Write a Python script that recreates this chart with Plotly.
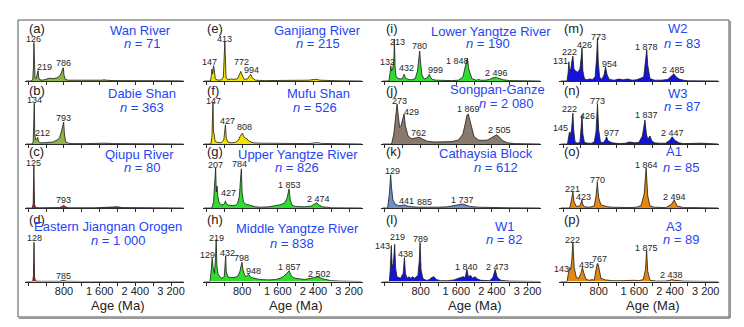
import plotly.graph_objects as go

W, H = 744, 327

# ---------------- data (age in Ma, relative density) ----------------
WAN_AGE = [-50, 60, 100, 115, 126, 137, 150, 175, 200, 219, 235, 260, 320, 400, 480, 560, 640, 700, 740, 770, 786, 800, 830, 900, 1000, 1200, 1500, 1650, 1700, 1750, 1900, 2200, 2400, 2500, 2600, 3000, 3300, 3480]
WAN_DENS = [0, 0, 0.03, 0.35, 0.96, 0.3, 0.08, 0.06, 0.15, 0.26, 0.08, 0.03, 0.02, 0.05, 0.07, 0.06, 0.08, 0.12, 0.2, 0.3, 0.33, 0.15, 0.04, 0.02, 0.02, 0.01, 0.01, 0.02, 0.03, 0.02, 0.01, 0.01, 0.02, 0.01, 0.005, 0.005, 0.005, 0]
WAN_PEAKS = [126, 219, 786]

DABIE_AGE = [-50, 80, 110, 125, 134, 145, 165, 190, 212, 230, 260, 350, 450, 550, 650, 700, 740, 770, 793, 810, 840, 900, 1000, 1300, 1500, 1600, 1700, 1900, 2200, 2500, 2800, 3480]
DABIE_DENS = [0, 0, 0.05, 0.5, 1.02, 0.25, 0.1, 0.12, 0.17, 0.07, 0.03, 0.03, 0.04, 0.05, 0.1, 0.16, 0.3, 0.48, 0.55, 0.25, 0.05, 0.02, 0.01, 0.01, 0.02, 0.03, 0.02, 0.01, 0.01, 0.005, 0.005, 0]
DABIE_PEAKS = [134, 212, 793]

QIUPU_AGE = [-50, 90, 110, 125, 140, 160, 250, 500, 700, 760, 793, 830, 900, 1500, 1900, 2000, 2100, 2500, 2700, 3480]
QIUPU_DENS = [0, 0, 0.1, 1.05, 0.1, 0.01, 0.005, 0.005, 0.01, 0.04, 0.07, 0.03, 0.005, 0.005, 0.01, 0.03, 0.01, 0.005, 0.01, 0]
QIUPU_PEAKS = [125, 793]

JIANGNAN_AGE = [-50, 100, 115, 128, 140, 160, 300, 700, 785, 870, 1200, 3480]
JIANGNAN_DENS = [0, 0, 0.15, 0.98, 0.12, 0.01, 0.005, 0.005, 0.025, 0.005, 0, 0]
JIANGNAN_PEAKS = [128, 785]

GANJIANG_AGE = [-50, 90, 110, 125, 140, 160, 175, 200, 260, 340, 380, 413, 440, 480, 550, 620, 700, 740, 772, 800, 850, 920, 960, 994, 1030, 1100, 1300, 1700, 2100, 2300, 2420, 2480, 2540, 2700, 2780, 2850, 3000, 3480]
GANJIANG_DENS = [0, 0, 0.12, 0.3, 0.18, 0.38, 0.3, 0.05, 0.02, 0.03, 0.1, 0.98, 0.1, 0.03, 0.05, 0.04, 0.06, 0.15, 0.24, 0.15, 0.04, 0.05, 0.12, 0.17, 0.08, 0.02, 0.01, 0.01, 0.01, 0.02, 0.04, 0.04, 0.02, 0.01, 0.02, 0.01, 0.005, 0]
GANJIANG_PEAKS = [147, 413, 772, 994]

MUFU_AGE = [-50, 100, 125, 147, 160, 175, 190, 205, 250, 330, 390, 410, 427, 445, 480, 550, 650, 720, 760, 808, 840, 880, 910, 950, 1050, 1200, 1600, 2000, 2300, 2450, 2500, 2560, 2800, 3000, 3480]
MUFU_DENS = [0, 0, 0.2, 1.05, 0.3, 0.25, 0.1, 0.06, 0.04, 0.03, 0.1, 0.35, 0.48, 0.15, 0.05, 0.03, 0.04, 0.1, 0.2, 0.27, 0.18, 0.14, 0.13, 0.07, 0.03, 0.02, 0.01, 0.01, 0.01, 0.03, 0.035, 0.015, 0.01, 0.005, 0]
MUFU_PEAKS = [147, 427, 808]

UPPER_AGE = [-50, 120, 160, 190, 207, 222, 240, 255, 280, 330, 380, 410, 427, 450, 500, 580, 650, 700, 740, 770, 784, 800, 830, 880, 950, 1000, 1100, 1200, 1400, 1550, 1650, 1750, 1810, 1853, 1880, 1920, 2000, 2200, 2350, 2430, 2474, 2520, 2600, 2700, 2800, 3480]
UPPER_DENS = [0, 0, 0.15, 0.6, 1.0, 0.4, 0.55, 0.3, 0.15, 0.08, 0.08, 0.12, 0.18, 0.1, 0.07, 0.06, 0.07, 0.12, 0.3, 0.8, 0.98, 0.4, 0.15, 0.1, 0.08, 0.05, 0.03, 0.02, 0.03, 0.06, 0.08, 0.12, 0.25, 0.48, 0.2, 0.07, 0.04, 0.03, 0.05, 0.1, 0.13, 0.08, 0.03, 0.02, 0.005, 0]
UPPER_PEAKS = [207, 427, 784, 1853, 2474]

MIDDLE_AGE = [-50, 80, 110, 129, 150, 180, 205, 219, 235, 260, 300, 350, 400, 420, 432, 445, 480, 550, 620, 700, 750, 780, 798, 820, 860, 900, 948, 1000, 1100, 1200, 1400, 1550, 1650, 1720, 1800, 1857, 1900, 1950, 2000, 2100, 2200, 2300, 2400, 2502, 2600, 2700, 2800, 3000, 3480]
MIDDLE_DENS = [0, 0, 0.3, 0.58, 0.35, 0.2, 0.6, 1.05, 0.4, 0.2, 0.12, 0.08, 0.12, 0.4, 0.64, 0.25, 0.12, 0.1, 0.1, 0.13, 0.25, 0.4, 0.48, 0.3, 0.15, 0.13, 0.18, 0.1, 0.07, 0.05, 0.04, 0.05, 0.08, 0.12, 0.2, 0.27, 0.15, 0.1, 0.08, 0.06, 0.05, 0.07, 0.1, 0.12, 0.07, 0.04, 0.02, 0.01, 0]
MIDDLE_PEAKS = [129, 219, 432, 798, 948, 1857, 2502]

LOWER_AGE = [-50, 90, 115, 132, 150, 175, 200, 213, 228, 250, 300, 380, 415, 432, 455, 520, 600, 680, 730, 760, 780, 800, 830, 880, 950, 980, 999, 1020, 1060, 1150, 1300, 1500, 1650, 1750, 1800, 1848, 1880, 1950, 2050, 2100, 2150, 2250, 2350, 2420, 2496, 2560, 2650, 2800, 3480]
LOWER_DENS = [0, 0, 0.2, 0.38, 0.25, 0.3, 0.5, 1.05, 0.35, 0.12, 0.06, 0.05, 0.12, 0.17, 0.08, 0.04, 0.03, 0.06, 0.25, 0.6, 0.75, 0.45, 0.15, 0.05, 0.08, 0.14, 0.17, 0.1, 0.04, 0.02, 0.01, 0.01, 0.02, 0.1, 0.35, 0.57, 0.3, 0.06, 0.02, 0.04, 0.02, 0.02, 0.04, 0.08, 0.09, 0.07, 0.03, 0.01, 0]
LOWER_PEAKS = [132, 213, 432, 780, 999, 1848, 2496]

SONGPAN_AGE = [-50, 150, 200, 240, 273, 300, 330, 360, 400, 429, 460, 520, 600, 680, 762, 850, 950, 1100, 1300, 1500, 1650, 1750, 1800, 1840, 1869, 1900, 1950, 2000, 2100, 2200, 2300, 2400, 2450, 2505, 2560, 2650, 2750, 2900, 3480]
SONGPAN_DENS = [0, 0, 0.25, 0.75, 1.0, 0.7, 0.42, 0.45, 0.65, 0.75, 0.45, 0.2, 0.13, 0.15, 0.17, 0.12, 0.07, 0.05, 0.05, 0.06, 0.1, 0.25, 0.5, 0.72, 0.75, 0.62, 0.35, 0.18, 0.1, 0.09, 0.1, 0.16, 0.21, 0.23, 0.18, 0.08, 0.03, 0.01, 0]
SONGPAN_PEAKS = [273, 429, 762, 1869, 2505]

CATHAYSIA_AGE = [-50, 60, 100, 129, 150, 180, 230, 300, 380, 441, 500, 600, 750, 885, 1000, 1200, 1400, 1550, 1650, 1737, 1800, 1900, 2100, 2400, 2600, 2800, 3480]
CATHAYSIA_DENS = [0, 0, 0.35, 0.83, 0.5, 0.2, 0.1, 0.06, 0.06, 0.08, 0.05, 0.03, 0.02, 0.03, 0.02, 0.02, 0.03, 0.06, 0.09, 0.1, 0.08, 0.04, 0.02, 0.01, 0.01, 0.005, 0]
CATHAYSIA_PEAKS = [129, 441, 885, 1737]

W1_AGE = [-50, 100, 120, 143, 160, 180, 200, 219, 240, 270, 350, 410, 438, 460, 500, 540, 580, 620, 660, 700, 740, 770, 789, 810, 850, 900, 950, 1000, 1050, 1100, 1150, 1250, 1400, 1550, 1650, 1700, 1750, 1800, 1840, 1870, 1920, 1970, 2020, 2080, 2150, 2250, 2350, 2420, 2473, 2520, 2600, 2700, 2800, 3480]
W1_DENS = [0, 0, 0.3, 0.9, 0.45, 0.35, 0.6, 0.93, 0.35, 0.12, 0.08, 0.2, 0.6, 0.2, 0.08, 0.12, 0.08, 0.12, 0.08, 0.12, 0.15, 0.5, 0.98, 0.3, 0.08, 0.04, 0.03, 0.05, 0.1, 0.12, 0.05, 0.02, 0.02, 0.04, 0.07, 0.1, 0.12, 0.1, 0.3, 0.12, 0.15, 0.08, 0.12, 0.06, 0.03, 0.02, 0.02, 0.1, 0.3, 0.1, 0.03, 0.02, 0.01, 0]
W1_PEAKS = [143, 219, 438, 789, 1840, 2473]

W2_AGE = [-50, 90, 115, 131, 150, 175, 200, 222, 245, 280, 330, 380, 410, 426, 445, 480, 530, 600, 660, 720, 755, 773, 790, 820, 870, 920, 954, 990, 1040, 1150, 1250, 1350, 1450, 1550, 1650, 1750, 1810, 1850, 1878, 1900, 1950, 2050, 2200, 2350, 2430, 2485, 2540, 2600, 2700, 2800, 3480]
W2_DENS = [0, 0, 0.2, 0.48, 0.25, 0.3, 0.5, 0.62, 0.3, 0.25, 0.22, 0.3, 0.6, 0.83, 0.25, 0.06, 0.03, 0.05, 0.04, 0.1, 0.6, 1.08, 0.5, 0.1, 0.04, 0.15, 0.35, 0.15, 0.04, 0.02, 0.05, 0.03, 0.05, 0.02, 0.03, 0.08, 0.1, 0.5, 0.78, 0.4, 0.06, 0.02, 0.02, 0.04, 0.12, 0.18, 0.1, 0.05, 0.02, 0.005, 0]
W2_PEAKS = [131, 222, 426, 773, 954, 1878, 2485]

W3_AGE = [-50, 100, 130, 145, 165, 190, 210, 222, 240, 270, 330, 380, 410, 426, 445, 480, 560, 640, 700, 740, 773, 800, 840, 900, 950, 977, 1010, 1100, 1250, 1400, 1500, 1600, 1700, 1780, 1837, 1870, 1900, 1950, 1990, 2050, 2150, 2300, 2400, 2447, 2500, 2600, 2700, 2900, 3100, 3480]
W3_DENS = [0, 0, 0.2, 0.3, 0.22, 0.35, 0.6, 0.77, 0.35, 0.05, 0.02, 0.05, 0.45, 0.72, 0.25, 0.04, 0.02, 0.02, 0.05, 0.3, 1.0, 0.35, 0.05, 0.03, 0.1, 0.18, 0.08, 0.03, 0.01, 0.02, 0.05, 0.03, 0.04, 0.2, 0.6, 0.25, 0.12, 0.2, 0.08, 0.03, 0.02, 0.02, 0.1, 0.18, 0.1, 0.03, 0.01, 0.01, 0.02, 0]
W3_PEAKS = [145, 222, 426, 773, 977, 1837, 2447]

A1_AGE = [-50, 150, 190, 221, 250, 300, 380, 410, 423, 440, 480, 600, 700, 740, 770, 800, 850, 900, 1000, 1100, 1300, 1500, 1650, 1750, 1820, 1864, 1900, 1950, 2050, 2300, 2420, 2494, 2560, 2700, 2900, 3100, 3480]
A1_DENS = [0, 0, 0.2, 0.4, 0.15, 0.04, 0.05, 0.15, 0.2, 0.1, 0.03, 0.02, 0.05, 0.3, 0.63, 0.25, 0.08, 0.06, 0.03, 0.02, 0.01, 0.01, 0.02, 0.06, 0.35, 1.0, 0.3, 0.05, 0.02, 0.01, 0.08, 0.2, 0.05, 0.01, 0.01, 0.005, 0]
A1_PEAKS = [221, 423, 770, 1864, 2494]

A3_AGE = [-50, 90, 120, 143, 170, 195, 222, 250, 300, 350, 400, 435, 470, 520, 600, 650, 700, 740, 767, 790, 820, 850, 950, 1100, 1300, 1500, 1600, 1700, 1800, 1850, 1875, 1900, 1950, 2100, 2300, 2400, 2438, 2500, 2700, 3000, 3480]
A3_DENS = [0, 0, 0.2, 0.35, 0.3, 0.5, 0.98, 0.35, 0.1, 0.08, 0.2, 0.35, 0.2, 0.05, 0.03, 0.05, 0.03, 0.3, 0.45, 0.43, 0.2, 0.08, 0.04, 0.02, 0.02, 0.03, 0.03, 0.02, 0.05, 0.3, 0.77, 0.25, 0.03, 0.01, 0.01, 0.03, 0.05, 0.03, 0.01, 0.005, 0]
A3_PEAKS = [143, 222, 435, 767, 1875, 2438]

TICK_VALS = [0, 400, 800, 1200, 1600, 2000, 2400, 2800, 3200]
TICK_TEXT = ["", "", "800", "", "1 600", "", "2 400", "", "3 200"]

# ---------------- styling / layout ----------------
OLIVE, RED, YELLOW, GREEN = "#8fb24b", "#e60a0a", "#f3e400", "#2fdc2f"
BROWN, STEEL, BLUE, ORANGE = "#8a7a6d", "#6e8ec4", "#1414d6", "#e5880f"
TITLE_BLUE = "#1f45f5"

COL_X0 = [28.3, 206.4, 384.9, 563.0]   # px position of 0 Ma in each column
PX_PER_MA = 0.0446
ROW_AXIS = [81, 144, 208, 281.5]       # px position of the baseline in each row
XR = [-80, 3500]
YR = [0, 1.2]
PANEL_H = 48

def fmt(v):
    s = str(v)
    return s if len(s) < 4 else s[:-3] + " " + s[-3:]

panels = [
    # letter, title, n, age, dens, peaks, color, row, col, title px, n px, label shifts
    ("a", "Wan River", "71", WAN_AGE, WAN_DENS, WAN_PEAKS, OLIVE, 0, 0, (140, 30), (142, 43),
     [(0, 4), (6, 4), (0, 5)]),
    ("b", "Dabie Shan", "363", DABIE_AGE, DABIE_DENS, DABIE_PEAKS, OLIVE, 1, 0, (142, 93), (142, 107),
     [(0, 3), (5, 4), (0, 4)]),
    ("c", "Qiupu River", "80", QIUPU_AGE, QIUPU_DENS, QIUPU_PEAKS, RED, 2, 0, (139, 154), (142, 167),
     [(0, 3), (0, 5)]),
    ("d", "Eastern Jiangnan Orogen", "1 000", JIANGNAN_AGE, JIANGNAN_DENS, JIANGNAN_PEAKS, RED, 3, 0, (108, 226), (118, 240),
     [(0, 4), (0, 5)]),
    ("e", "Ganjiang River", "215", GANJIANG_AGE, GANJIANG_DENS, GANJIANG_PEAKS, YELLOW, 0, 1, (317, 30), (318, 43),
     [(-3, 4), (0, 3), (1, 9), (1, 4)]),
    ("f", "Mufu Shan", "526", MUFU_AGE, MUFU_DENS, MUFU_PEAKS, YELLOW, 1, 1, (318, 93), (315, 107),
     [(1, 1), (2, 4), (2, 6)]),
    ("g", "Upper Yangtze River", "826", UPPER_AGE, UPPER_DENS, UPPER_PEAKS, GREEN, 2, 1, (298, 154), (297, 167),
     [(0, 3), (3, 8), (-2, 5), (0, 4), (2, 4)]),
    ("h", "Middle Yangtze River", "838", MIDDLE_AGE, MIDDLE_DENS, MIDDLE_PEAKS, GREEN, 3, 1, (297, 229), (292, 243),
     [(-5, 3), (0, 2), (2, 3), (0, 4), (5, 3), (0, 4), (2, 3)]),
    ("i", "Lower Yangtze River", "190", LOWER_AGE, LOWER_DENS, LOWER_PEAKS, GREEN, 0, 2, (491, 31), (488, 43),
     [(-3, 4), (3, -3), (2, 6), (0, 5), (6, 4), (-10, -3), (0, 4)]),
    ("j", "Songpan-Ganze", "2 080", SONGPAN_AGE, SONGPAN_DENS, SONGPAN_PEAKS, BROWN, 1, 2, (497, 89), (507, 103),
     [(2, 3), (7, 2), (0, 4), (0, 5), (3, 5)]),
    ("k", "Cathaysia Block", "612", CATHAYSIA_AGE, CATHAYSIA_DENS, CATHAYSIA_PEAKS, STEEL, 2, 2, (486, 153), (496, 167),
     [(2, 4), (2, 4), (0, 5), (0, 4)]),
    ("l", "W1", "82", W1_AGE, W1_DENS, W1_PEAKS, BLUE, 3, 2, (505, 226), (505, 239),
     [(-9, 0), (3, 7), (1, 4), (0, 3), (0, 3), (2, 3)]),
    ("m", "W2", "83", W2_AGE, W2_DENS, W2_PEAKS, BLUE, 0, 3, (678, 29), (682, 43),
     [(-8, 1), (-3, 4), (2, 3), (1, 1), (4, 3), (0, 3), (0, 4)]),
    ("n", "W3", "87", W3_AGE, W3_DENS, W3_PEAKS, BLUE, 1, 3, (678, 93), (682, 106),
     [(-9, 4), (-3, 4), (5, -1), (0, 3), (5, 4), (2, 5), (0, 4)]),
    ("o", "A1", "85", A1_AGE, A1_DENS, A1_PEAKS, ORANGE, 2, 3, (674, 152), (681, 167),
     [(0, 3), (2, 3), (0, 3), (0, 3), (0, 3)]),
    ("p", "A3", "89", A3_AGE, A3_DENS, A3_PEAKS, ORANGE, 3, 3, (674, 226), (681, 239),
     [(-8, -1), (0, 2), (4, 3), (2, 5), (0, 3), (0, 5)]),
]

LETTER_Y = [29, 90, 152, 219]
FONT = "Liberation Sans, Arial, sans-serif"

fig = go.Figure()
annotations = []
layout = {}

def px(x):
    return x / W

def py(y):
    return 1 - y / H

for i, (letter, title, n, age, dens, peaks, color, row, col, tpos, npos, shifts) in enumerate(panels):
    k = "" if i == 0 else str(i + 1)
    x0 = COL_X0[col]
    xd = [px(x0 + XR[0] * PX_PER_MA), px(x0 + XR[1] * PX_PER_MA)]
    yd = [py(ROW_AXIS[row]), py(ROW_AXIS[row] - PANEL_H)]
    fig.add_trace(go.Scatter(
        x=age, y=dens, mode="lines", fill="tozeroy", fillcolor=color,
        line=dict(color="#1c1c1c", width=0.8), xaxis="x" + k, yaxis="y" + k,
        hoverinfo="skip", showlegend=False))
    bottom = row == 3
    layout["xaxis" + k] = dict(
        domain=xd, range=XR, anchor="y" + k, showline=True, linecolor="#2a2a2a", linewidth=1,
        ticks="outside", ticklen=3, tickwidth=1, tickcolor="#2a2a2a",
        tickvals=TICK_VALS, ticktext=TICK_TEXT, showticklabels=bottom,
        ticklabelstandoff=-4,
        tickfont=dict(size=11, color="#222", family=FONT),
        showgrid=False, zeroline=False, fixedrange=True)
    layout["yaxis" + k] = dict(domain=yd, range=YR, anchor="x" + k, visible=False, fixedrange=True)

    # peak labels
    for p, (dx, dy) in zip(peaks, shifts):
        near = [d for a, d in zip(age, dens) if abs(a - p) <= 40]
        top = max(near) if near else 0
        annotations.append(dict(
            x=p, y=top, xref="x" + k, yref="y" + k, text=fmt(p), showarrow=False,
            xanchor="center", yanchor="middle", xshift=dx, yshift=dy,
            font=dict(size=9, color="#262626", family=FONT)))

    # panel letter
    annotations.append(dict(
        x=px(x0 - 1), y=py(LETTER_Y[row]), xref="paper", yref="paper", text="(" + letter + ")",
        showarrow=False, xanchor="left", yanchor="middle",
        font=dict(size=13, color="#222", family=FONT)))
    # title and n
    annotations.append(dict(
        x=px(tpos[0]), y=py(tpos[1]), xref="paper", yref="paper", text=title,
        showarrow=False, xanchor="center", yanchor="middle",
        font=dict(size=13, color=TITLE_BLUE, family=FONT)))
    annotations.append(dict(
        x=px(npos[0]), y=py(npos[1]), xref="paper", yref="paper", text="<i>n</i> = " + n,
        showarrow=False, xanchor="center", yanchor="middle",
        font=dict(size=13, color=TITLE_BLUE, family=FONT)))

    if bottom:
        annotations.append(dict(
            x=2000, y=py(305), xref="x" + k, yref="paper", text="Age (Ma)", showarrow=False,
            xanchor="center", yanchor="middle",
            font=dict(size=13, color="#222", family=FONT)))

shapes = [
    dict(type="rect", xref="paper", yref="paper", x0=px(18), x1=px(729), y0=py(317), y1=py(20),
         line=dict(color="#555", width=1)),
    dict(type="line", xref="paper", yref="paper", x0=px(730), x1=px(730), y0=py(318), y1=py(21),
         line=dict(color="#999", width=2)),
    dict(type="line", xref="paper", yref="paper", x0=px(19), x1=px(730), y0=py(318), y1=py(318),
         line=dict(color="#999", width=2)),
]

fig.update_layout(
    width=W, height=H, margin=dict(l=0, r=0, t=0, b=0),
    paper_bgcolor="white", plot_bgcolor="rgba(0,0,0,0)",
    annotations=annotations, shapes=shapes, **layout)

fig.write_html("out.html", config={"displayModeBar": False},
               post_script="document.body.style.margin='0';document.body.style.padding='0';")
